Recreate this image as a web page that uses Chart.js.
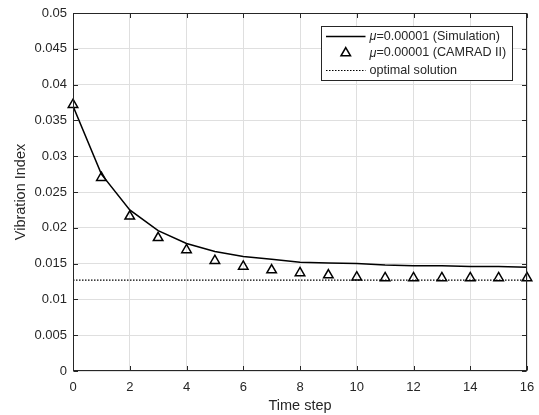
<!DOCTYPE html>
<html>
<head>
<meta charset="utf-8">
<script src="https://cdn.jsdelivr.net/npm/chart.js@4/dist/chart.umd.min.js"></script>
<style>
html, body { margin: 0; padding: 0; background: #fff; }
#wrap { width: 539px; height: 415px; position: relative; }
</style>
</head>
<body>
<div id="wrap"><canvas id="vibChart"></canvas></div>
<script>
// data
const timeSteps = [0, 1, 2, 3, 4, 5, 6, 7, 8, 9, 10, 11, 12, 13, 14, 15, 16];
const simulation = [0.0370, 0.0275, 0.0225, 0.0196, 0.0178, 0.0167, 0.0160, 0.0156, 0.0152,
                    0.0151, 0.0150, 0.0148, 0.0147, 0.0147, 0.0146, 0.0146, 0.0145];
const camrad = [0.0372, 0.0270, 0.0216, 0.0186, 0.0169, 0.0154, 0.0146, 0.0141, 0.0137,
                0.0134, 0.0131, 0.0130, 0.0130, 0.0130, 0.0130, 0.0130, 0.0130];
const optimalRange = [0, 16];
const optimalValue = 0.0127;
const xTicks = [0, 2, 4, 6, 8, 10, 12, 14, 16];
const xTickLabels = ['0', '2', '4', '6', '8', '10', '12', '14', '16'];
const yTicks = [0, 0.005, 0.01, 0.015, 0.02, 0.025, 0.03, 0.035, 0.04, 0.045, 0.05];
const yTickLabels = ['0', '0.005', '0.01', '0.015', '0.02', '0.025', '0.03', '0.035', '0.04', '0.045', '0.05'];

const axisColor = '#262626';
const gridColor = '#dfdfdf';
const fontFamily = '"Liberation Sans", Arial, sans-serif';

// axes box + inward ticks like matlab
const boxPlugin = {
    id: 'axesBox',
    afterDatasetsDraw(chart) {
        const ctx = chart.ctx;
        const a = chart.chartArea;
        const xs = chart.scales.x, ys = chart.scales.y;
        const L = Math.round(a.left) + 0.5, R = Math.round(a.right) - 0.5;
        const T = Math.round(a.top) + 0.5, B = Math.round(a.bottom) - 0.5;
        const tl = 4.5;
        ctx.save();
        ctx.strokeStyle = axisColor;
        ctx.lineWidth = 1;
        ctx.strokeRect(L, T, R - L, B - T);
        ctx.beginPath();
        xTicks.forEach(v => {
            const px = Math.round(xs.getPixelForValue(v)) + 0.5;
            ctx.moveTo(px, B); ctx.lineTo(px, B - tl);
            ctx.moveTo(px, T); ctx.lineTo(px, T + tl);
        });
        yTicks.forEach(v => {
            const py = Math.round(ys.getPixelForValue(v)) + 0.5;
            ctx.moveTo(L, py); ctx.lineTo(L + tl, py);
            ctx.moveTo(R, py); ctx.lineTo(R - tl, py);
        });
        ctx.stroke();
        ctx.restore();
    }
};

// legend box in the upper right corner
const legendPlugin = {
    id: 'boxLegend',
    afterDraw(chart) {
        const ctx = chart.ctx;
        const a = chart.chartArea;
        const w = 191, h = 54;
        const x0 = Math.round(a.right - 14 - w) - 0.5;
        const y0 = Math.round(a.top + 13) + 0.5;
        ctx.save();
        ctx.fillStyle = '#fff';
        ctx.fillRect(x0, y0, w, h);
        ctx.strokeStyle = axisColor;
        ctx.lineWidth = 1;
        ctx.strokeRect(x0, y0, w, h);

        const rows = [y0 + 10, y0 + 26.5, y0 + 44];
        const sx1 = x0 + 4.5, sx2 = x0 + 44, tx = x0 + 48;

        // simulation line sample
        ctx.strokeStyle = '#000';
        ctx.lineWidth = 1.5;
        ctx.beginPath();
        ctx.moveTo(sx1, rows[0]); ctx.lineTo(sx2, rows[0]);
        ctx.stroke();

        // triangle sample
        const cx = (sx1 + sx2) / 2, r = 5.5;
        ctx.beginPath();
        ctx.moveTo(cx, rows[1] - r);
        ctx.lineTo(cx + r * Math.sqrt(3) / 2, rows[1] + r / 2);
        ctx.lineTo(cx - r * Math.sqrt(3) / 2, rows[1] + r / 2);
        ctx.closePath();
        ctx.stroke();

        // dotted sample
        ctx.lineWidth = 1.2;
        ctx.setLineDash([1.5, 1.5]);
        ctx.beginPath();
        ctx.moveTo(sx1, rows[2]); ctx.lineTo(sx2, rows[2]);
        ctx.stroke();
        ctx.setLineDash([]);

        ctx.fillStyle = axisColor;
        ctx.textBaseline = 'middle';
        ctx.textAlign = 'left';
        const fs = 12.6;
        [['=0.00001 (Simulation)', true], ['=0.00001 (CAMRAD II)', true], ['optimal solution', false]]
            .forEach(([txt, mu], i) => {
                let x = tx;
                if (mu) {
                    ctx.font = 'italic ' + fs + 'px ' + fontFamily;
                    ctx.fillText('\u03bc', x, rows[i]);
                    x += ctx.measureText('\u03bc').width;
                }
                ctx.font = fs + 'px ' + fontFamily;
                ctx.fillText(txt, x, rows[i]);
            });
        ctx.restore();
    }
};

const ctxVib = document.getElementById('vibChart').getContext('2d');
new Chart(ctxVib, {
    type: 'line',
    data: {
        datasets: [
            {
                label: '\u03bc=0.00001 (Simulation)',
                data: timeSteps.map((t, i) => ({ x: t, y: simulation[i] })),
                borderColor: '#000',
                borderWidth: 1.5,
                pointRadius: 0,
                tension: 0,
                fill: false
            },
            {
                label: '\u03bc=0.00001 (CAMRAD II)',
                data: timeSteps.map((t, i) => ({ x: t, y: camrad[i] })),
                showLine: false,
                pointStyle: 'triangle',
                pointRadius: 5.5,
                pointBorderWidth: 1.5,
                pointBorderColor: '#000',
                pointBackgroundColor: 'rgba(0,0,0,0)',
                clip: false
            },
            {
                label: 'optimal solution',
                data: optimalRange.map(t => ({ x: t, y: optimalValue })),
                borderColor: '#000',
                borderWidth: 1.2,
                borderDash: [1.5, 1.5],
                pointRadius: 0,
                fill: false
            }
        ]
    },
    options: {
        responsive: true,
        maintainAspectRatio: false,
        animation: false,
        devicePixelRatio: 1,
        layout: { padding: { top: 13, right: 12, left: 0, bottom: 0 } },
        plugins: { legend: { display: false }, tooltip: { enabled: false } },
        scales: {
            x: {
                type: 'linear', min: 0, max: 16,
                afterBuildTicks: s => { s.ticks = xTicks.map(v => ({ value: v })); },
                afterFit: s => { s.height = 44; s.paddingLeft = 0; s.paddingRight = 0; },
                grid: { color: gridColor, drawTicks: false },
                border: { display: false },
                ticks: {
                    color: axisColor, padding: 9, maxRotation: 0, autoSkip: false,
                    font: { family: fontFamily, size: 13 },
                    callback: (v, i) => xTickLabels[i]
                },
                title: {
                    display: true, text: 'Time step', color: axisColor,
                    font: { family: fontFamily, size: 14.5 },
                    padding: { top: 0, bottom: 0 }
                }
            },
            y: {
                type: 'linear', min: 0, max: 0.05,
                afterBuildTicks: s => { s.ticks = yTicks.map(v => ({ value: v })); },
                afterFit: s => { s.width = 73; s.paddingTop = 0; s.paddingBottom = 0; },
                grid: { color: gridColor, drawTicks: false },
                border: { display: false },
                ticks: {
                    color: axisColor, padding: 6, autoSkip: false,
                    font: { family: fontFamily, size: 13 },
                    callback: (v, i) => yTickLabels[i]
                },
                title: {
                    display: true, text: 'Vibration Index', color: axisColor,
                    font: { family: fontFamily, size: 14.5 },
                    padding: { top: 12, bottom: 0 }
                }
            }
        }
    },
    plugins: [boxPlugin, legendPlugin]
});
</script>
</body>
</html>
